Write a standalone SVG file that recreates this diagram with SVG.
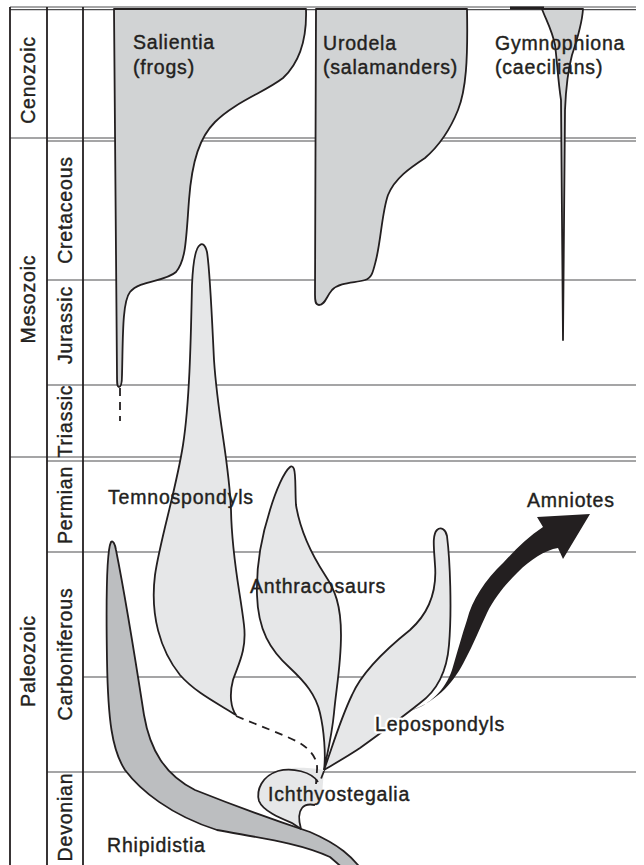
<svg xmlns="http://www.w3.org/2000/svg" width="644" height="865" viewBox="0 0 644 865">
<style>
.lbl{font-family:"Liberation Sans",Arial,sans-serif;font-size:19.5px;fill:#231f20;stroke:#231f20;stroke-width:0.4;letter-spacing:0.8px}
.grid{stroke:#4d4d4f;stroke-width:1.2;fill:none}
.vline{stroke:#231f20;stroke-width:1.8;fill:none}
.outline{stroke:#231f20;stroke-width:1.8;stroke-linejoin:round}
.mid{fill:#d1d3d4}
.light{fill:#e6e7e8}
.dark{fill:#bcbec0}
.dash{stroke:#231f20;stroke-width:1.8;fill:none;stroke-dasharray:8,6}
.lbl.halo{stroke:#ffffff;fill:#ffffff;stroke-width:5;stroke-linejoin:round}
</style>
<rect width="644" height="865" fill="#ffffff"/>
<g id="timescale">
  <line class="grid" x1="10" y1="7" x2="636" y2="7"/>
  <line class="grid" x1="10" y1="9.6" x2="636" y2="9.6"/>
  <line x1="510" y1="8" x2="544" y2="8" stroke="#231f20" stroke-width="3"/>
  <line class="grid" x1="10" y1="138" x2="636" y2="138"/>
  <line class="grid" x1="47" y1="141" x2="636" y2="141"/>
  <line class="grid" x1="47" y1="280" x2="636" y2="280"/>
  <line class="grid" x1="47" y1="385" x2="636" y2="385"/>
  <line class="grid" x1="10" y1="457" x2="636" y2="457"/>
  <line class="grid" x1="47" y1="461" x2="636" y2="461"/>
  <line class="grid" x1="47" y1="552" x2="636" y2="552"/>
  <line class="grid" x1="83" y1="677" x2="636" y2="677"/>
  <line class="grid" x1="47" y1="772" x2="636" y2="772"/>
  <line class="vline" x1="10" y1="7" x2="10" y2="865"/>
  <line class="vline" x1="47" y1="7" x2="47" y2="865"/>
  <line class="vline" x1="83" y1="7" x2="83" y2="865"/>
  <text class="lbl" text-anchor="middle" transform="translate(35,80) rotate(-90)">Cenozoic</text>
  <text class="lbl" text-anchor="middle" transform="translate(35,299) rotate(-90)">Mesozoic</text>
  <text class="lbl" text-anchor="middle" transform="translate(35,661) rotate(-90)">Paleozoic</text>
  <text class="lbl" text-anchor="middle" transform="translate(72,210) rotate(-90)">Cretaceous</text>
  <text class="lbl" text-anchor="middle" transform="translate(72,325) rotate(-90)">Jurassic</text>
  <text class="lbl" text-anchor="middle" transform="translate(72,421) rotate(-90)">Triassic</text>
  <text class="lbl" text-anchor="middle" transform="translate(72,505) rotate(-90)">Permian</text>
  <text class="lbl" text-anchor="middle" transform="translate(72,654) rotate(-90)">Carboniferous</text>
  <text class="lbl" text-anchor="middle" transform="translate(72,817) rotate(-90)">Devonian</text>
</g>
<g id="rhipidistia">
  <path class="dark outline" d="M111,542 C106,552 106,600 107,660 C108,720 112,750 125,770 C140,790 170,815 217,830 C260,838 300,843 330,857 L345,870 L362,870 C352,857 340,845 310,832 C280,822 240,808 195,790 C165,775 150,750 144,715 C137,670 126,600 116,550 C115,544 113,540 111,542 Z"/>
  <text class="lbl" x="107" y="852">Rhipidistia</text>
</g>
<g id="salientia">
  <path class="mid outline" d="M114,9 L306,9 C307,40 300,62 283,78 C265,92 235,102 215,122 C200,137 192,160 189,200 C186,240 186,260 176,272 C165,282 140,280 130,292 C122,302 123,340 122,375 C122,383 121,387 119,387 C117,387 117,383 117,375 Z"/>
  <text class="lbl" x="133" y="49">Salientia</text>
  <text class="lbl" x="133" y="74">(frogs)</text>
</g>
<g id="urodela">
  <path class="mid outline" d="M316,9 L467,9 C468,60 466,90 458,110 C450,130 440,145 425,158 C410,168 395,178 388,195 C382,212 381,240 376,260 C373,272 372,278 365,280 C355,283 340,282 332,290 C326,297 325,305 319,305 C315,305 315,300 315,295 Z"/>
  <text class="lbl" x="323" y="50">Urodela</text>
  <text class="lbl" x="323" y="74">(salamanders)</text>
</g>
<g id="gymnophiona">
  <path class="mid outline" d="M542,9 C546,20 552,30 555,45 C557,60 558,80 561,100 L563,340 L565,110 C566,85 568,70 572,55 C577,40 582,25 583,9 Z"/>
  <text class="lbl" x="495" y="50">Gymnophiona</text>
  <text class="lbl" x="495" y="74">(caecilians)</text>
</g>
<g id="temnospondyls">
  <path class="light outline" d="M200,245 C195,248 193,262 192,285 C191,330 190,400 183,445 C176,490 160,540 155,575 C150,615 160,650 180,675 C195,692 215,702 236,715 C231,708 229,695 233,680 C238,665 247,650 244,625 C240,590 232,560 231,510 C229,460 218,420 214,360 C212,320 210,270 207,252 C205,244 202,243 200,245 Z"/>
  <text class="lbl" x="108" y="504">Temnospondyls</text>
</g>
<g id="anthracosaurs">
  <path class="light outline" d="M290,467 C284,472 276,490 270,510 C262,535 256,565 257,595 C258,630 270,650 290,668 C305,682 316,695 320,713 C324,730 326,755 324,770 C327,755 332,735 334,713 C336,690 341,665 341,635 C341,605 335,590 325,575 C312,555 300,530 296,505 C295,490 296,475 294,469 C293,466 291,466 290,467 Z"/>
  <text class="lbl" x="250" y="593">Anthracosaurs</text>
</g>
<g id="lepospondyls">
  <path class="light outline" d="M324,770 C332,748 340,720 352,695 C362,672 385,650 410,630 C430,612 437,590 435,565 C434,548 432,535 437,530 C441,526 446,530 447,536 C450,560 452,610 449,645 C447,670 438,690 420,703 C405,715 385,730 360,748 C345,758 332,765 324,770 Z"/>
  <text class="lbl halo" x="375" y="731">Lepospondyls</text>
  <text class="lbl" x="375" y="731">Lepospondyls</text>
</g>
<g id="amniotes">
  <path fill="#231f20" d="M410,711 C430,705 445,690 452,670 C458,650 462,635 467,620 C472,600 485,580 503,563 C515,550 528,537 543,527 L537,517 L590,514 L563,559 L558,548 C545,550 530,560 518,572 C505,585 495,597 487,613 C480,628 473,645 465,660 C455,680 440,700 410,711 Z"/>
  <text class="lbl" x="527" y="507">Amniotes</text>
</g>
<g id="ichthyostegalia">
  <path class="light" d="M324,770 C315,768 295,766 280,770 C262,776 256,790 259,801 C263,811 280,818 292,823 L301,829 C299,822 298,813 302,808 C305,804 310,804 315,805 L322,795 Z"/>
  <path class="outline" fill="none" d="M318,782 C312,772 292,767 278,771 C262,776 256,790 259,801 C263,811 280,818 292,823 L301,829 C299,822 298,813 302,808 C305,804 310,804 315,805"/>
  <text class="lbl" x="268" y="801">Ichthyostegalia</text>
</g>
<g id="connectors">
  <path class="dash" d="M120,388 L120,421"/>
  <path class="dash" d="M236,716 C260,726 282,734 298,742 C312,750 318,760 317,770 L316,784"/>
  <path class="dash" d="M324,771 L319,784"/>
</g>
</svg>
